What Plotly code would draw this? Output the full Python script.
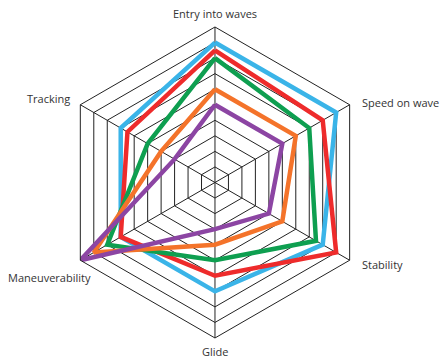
import plotly.graph_objects as go

categories = ["Entry into waves", "Speed on wave", "Stability", "Glide", "Maneuverability", "Tracking"]

blue = [9, 9, 8, 7, 7, 7]
red = [8.5, 8, 9, 6, 7, 6.5]
green = [8, 7, 7.5, 5, 8, 5]
orange = [6, 6, 5, 4, 9, 4]
purple = [5, 5, 4, 3, 10, 3]

series = [blue, red, green, orange, purple]
colors = ["#3AB4E8", "#EE2B2B", "#0E9F50", "#F4732A", "#8C45A3"]

fig = go.Figure()
for vals, col in zip(series, colors):
    fig.add_trace(go.Scatterpolar(r=vals + vals[:1], theta=categories + categories[:1],
                                  mode="lines", line=dict(color=col, width=4.5),
                                  showlegend=False, hoverinfo="skip"))

# label placement (paper coords, full window since margins are 0)
label_pos = [(0.4886, 0.963, "center"), (0.818, 0.715, "left"), (0.818, 0.26, "left"),
             (0.4886, 0.017, "center"), (0.1125, 0.2235, "center"), (0.163, 0.7254, "right")]
annotations = []
for name, (x, y, anchor) in zip(categories, label_pos):
    annotations.append(dict(text=name, x=x, y=y, xref="paper", yref="paper",
                            xanchor=anchor, yanchor="middle", showarrow=False,
                            font=dict(family="Open Sans", size=11, color="#333333")))

fig.update_layout(
    width=440, height=358,
    margin=dict(l=0, r=0, t=0, b=0),
    paper_bgcolor="white",
    polar=dict(
        domain=dict(x=[0.1352, 0.842], y=[0.0559, 0.9246]),
        bgcolor="white",
        gridshape="linear",
        radialaxis=dict(range=[0, 10], dtick=1, showticklabels=False, ticks="",
                        showline=False, gridcolor="#222222", gridwidth=1),
        angularaxis=dict(direction="clockwise", rotation=90, showticklabels=False, ticks="",
                         gridcolor="#222222", linecolor="#222222", linewidth=1),
    ),
    annotations=annotations,
)

# drop the default 8px body margin so the figure sits at the window corner
fig.write_html("out.html", config={"displayModeBar": False},
               post_script="document.body.style.margin='0';")
